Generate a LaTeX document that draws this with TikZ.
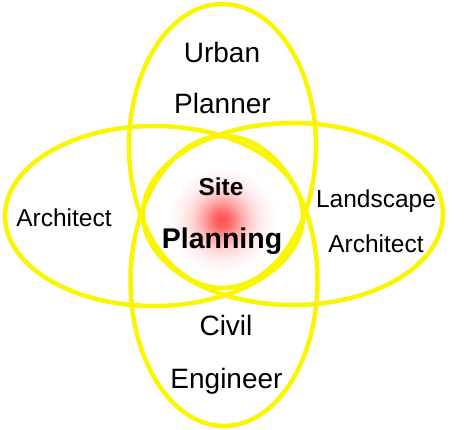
\documentclass[tikz,border=0pt]{standalone}
\usepackage{fontspec}
\setmainfont{Liberation Sans}
\definecolor{venn}{RGB}{250,245,0}
\pgfdeclareradialshading{glow}{\pgfpoint{0bp}{0bp}}{color(0bp)=(red!70); color(4bp)=(red!58); color(9bp)=(red!34); color(14bp)=(red!16); color(19bp)=(red!6); color(25bp)=(white); color(50bp)=(white)}
\tikzset{
  ring/.style={draw=venn, line width=4.5pt},
  big/.style={anchor=base, inner sep=0pt, font=\fontsize{28}{32}\selectfont},
  small/.style={anchor=base, inner sep=0pt, font=\fontsize{24.5}{28}\selectfont},
}
\begin{document}
\begin{tikzpicture}[x=1pt,y=-1pt]
\useasboundingbox (0,0) rectangle (476,430);
\shade[shading=glow] (222,220) circle (54);
\draw[ring] (222.5,146) ellipse [x radius=93.5, y radius=142];
\draw[ring] (224,281) ellipse [x radius=93.5, y radius=145];
\draw[ring] (154,216) ellipse [x radius=149, y radius=90];
\draw[ring] (293,214) ellipse [x radius=150, y radius=91];
\node[big] (urban) at (222,62.3) {Urban};
\node[big] (planner) at (222.5,113.3) {Planner};
\node[small] (arch) at (64,226.7) {Architect};
\node[small] (land) at (376,207.3) {Landscape};
\node[small] (larch) at (376,252.3) {Architect};
\node[small, font=\fontsize{24.5}{28}\selectfont\bfseries] (site) at (221,196) {Site};
\node[big, font=\fontsize{28.5}{32}\selectfont\bfseries] (planning) at (222,248.3) {Planning};
\node[big] (civil) at (226,335) {Civil};
\node[big] (eng) at (226.5,388.3) {Engineer};
\end{tikzpicture}
\end{document}
